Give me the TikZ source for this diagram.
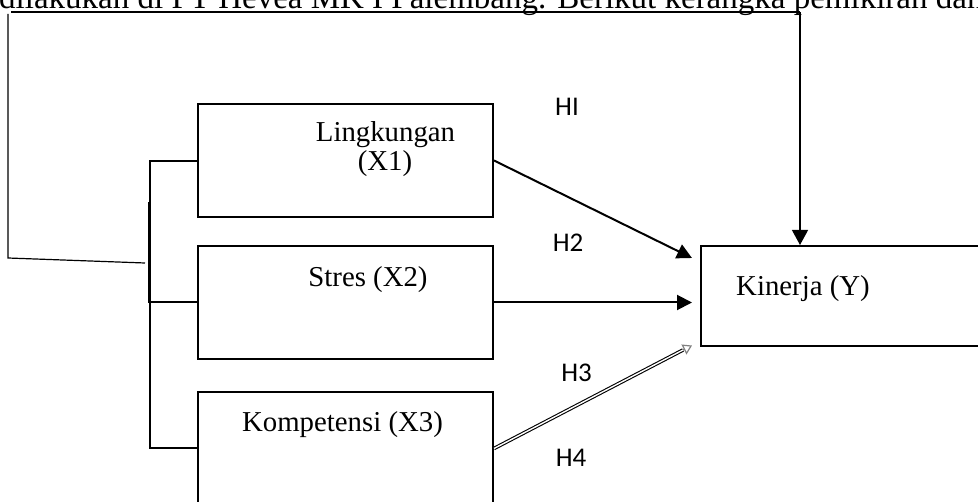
\documentclass[tikz,border=0pt]{standalone}
\usepackage{fontspec}
\setmainfont{Liberation Serif}
\newfontfamily\hfont{Carlito}
\usetikzlibrary{arrows.meta}
\tikzset{
  box/.style={draw, line width=2pt, rectangle, inner sep=0pt},
  btext/.style={inner sep=0pt, anchor=base, font=\fontsize{28.8}{34}\selectfont},
  hlabel/.style={inner sep=0pt, anchor=base, font=\hfont\fontsize{27}{30}\selectfont},
  arr/.style={line width=2pt, -{Triangle[length=15pt,width=15pt]}},
  thin/.style={line width=1.2pt},
}
\begin{document}
\begin{tikzpicture}[x=1pt,y=-1pt]
\useasboundingbox (0,0) rectangle (978,502);
\clip (0,0) rectangle (978,502);
% top cut text
\node[inner sep=0pt, anchor=base west, font=\fontsize{33}{36}\selectfont] (top) at (-1,8.5) {dilakukan di PT Hevea MK I Palembang. Berikut kerangka pemikiran dan};
% boxes
\node[box, minimum width=295pt, minimum height=113pt] (b1) at (345.5,160.5) {};
\node[box, minimum width=295pt, minimum height=113pt] (b2) at (345.5,302.5) {};
\node[box, minimum width=295pt, minimum height=113pt] (b3) at (345.5,448.5) {};
\node[box, minimum width=289pt, minimum height=100pt] (y) at (845.5,296) {};
% box texts
\node[btext] (t1a) at (385.5,142) {Lingkungan};
\node[btext] (t1b) at (385,171) {(X1)};
\node[btext] (t2) at (368,287) {Stres (X2)};
\node[btext] (t3) at (342.5,432) {Kompetensi (X3)};
\node[btext] (ty) at (803,296) {Kinerja (Y)};
% labels
\node[hlabel] (h1) at (567,116) {HI};
\node[hlabel] (h2) at (568,252) {H2};
\node[hlabel] (h3) at (576.5,382) {H3};
\node[hlabel] (h4) at (571,467) {H4};
% bracket on left
\coordinate (bt) at (150,161);
\coordinate (bm) at (150,302.5);
\coordinate (bb) at (150,448);
\draw[line width=2pt] (b1.west |- bt) -- (bt) -- (bb) -- (b3.west |- bb);
\draw[line width=2pt] (bm) -- (b2.west);
\draw[line width=3pt] (149.5,202) -- (149.5,303);
% outer feedback line
\coordinate (l0) at (145,263);
\coordinate (l1) at (8,258);
\coordinate (l2) at (8,14);
\coordinate (l3) at (11,12);
\coordinate (l4) at (800,12);
\draw[thin] (l0) -- (l1) -- (l2);
\draw[line width=1.6pt] (l3) -- (l4);
\draw[thin, -{Triangle[length=15pt,width=16pt]}] (l4) -- (l4 |- y.north);
% arrows to Kinerja
\coordinate (a1) at (692,258);
\coordinate (a2) at (692,302.5);
\coordinate (a3s) at (683,350);
\coordinate (a3) at (692,345.5);
\draw[arr] (b1.east) -- (a1);
\draw[arr] (b2.east) -- (a2);
\draw[line width=1.1pt, double, double distance=1.4pt] (b3.east) -- (a3s);
\draw[line width=1.2pt, gray, -{Triangle[open,length=9pt,width=11pt]}] (a3s) -- (a3);
\end{tikzpicture}
\end{document}
